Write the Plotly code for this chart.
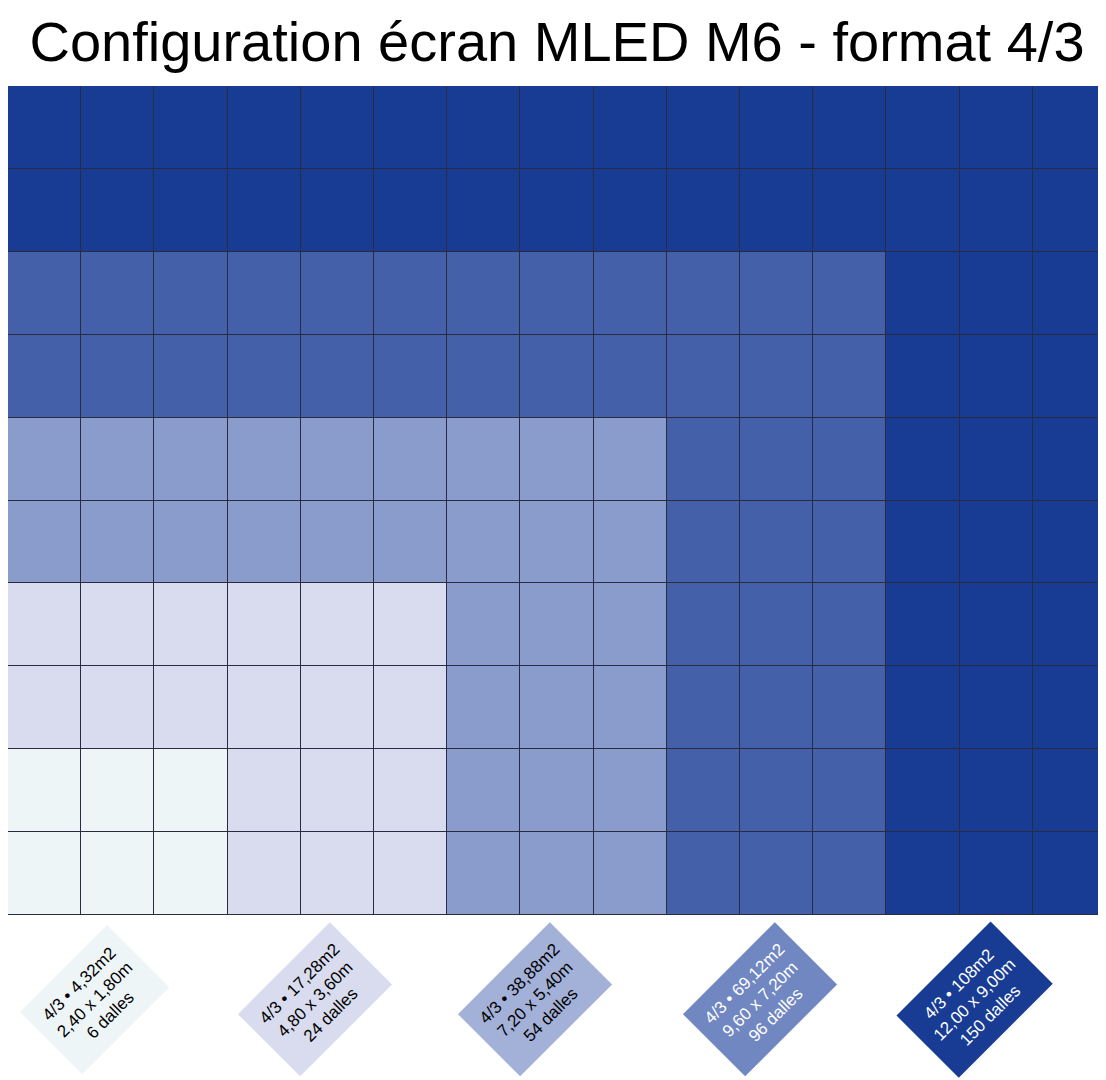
import plotly.graph_objects as go

config_cols = [3, 6, 9, 12, 15]
config_rows = [2, 4, 6, 8, 10]
cell_colors = ["#EEF5F7", "#D9DCEE", "#8A9CCB", "#4460A9", "#183C94"]
label_colors = ["#EEF5F7", "#D9DCEE", "#A3B1D8", "#7087C1", "#183C94"]
label_text_colors = ["#000000", "#000000", "#000000", "#FFFFFF", "#FFFFFF"]
labels = [
    "4/3 • 4,32m2<br>2,40 x 1,80m<br>6 dalles",
    "4/3 • 17,28m2<br>4,80 x 3,60m<br>24 dalles",
    "4/3 • 38,88m2<br>7,20 x 5,40m<br>54 dalles",
    "4/3 • 69,12m2<br>9,60 x 7,20m<br>96 dalles",
    "4/3 • 108m2<br>12,00 x 9,00m<br>150 dalles",
]

ncols, nrows = config_cols[-1], config_rows[-1]
z = []
for r in range(nrows):
    row = []
    for c in range(ncols):
        lvl = next(i for i in range(5) if c < config_cols[i] and r < config_rows[i])
        row.append(lvl)
    z.append(row)

cs = []
for i, col in enumerate(cell_colors):
    cs += [[i / 5, col], [(i + 1) / 5, col]]

fig = go.Figure(go.Heatmap(z=z, x=list(range(ncols)), y=list(range(nrows)),
                           zmin=0, zmax=5, colorscale=cs, showscale=False,
                           xgap=1, ygap=1, hoverinfo="skip"))

W, H = 1098, 1072
top, bottom = 78, 165
plot_h = H - top - bottom
label_px = [95, 315, 535, 760, 975]
for i, t in enumerate(labels):
    fig.add_annotation(x=(label_px[i] - 8) / W, y=-(992 - (H - bottom)) / plot_h,
                       xref="paper", yref="paper", text=t, showarrow=False,
                       textangle=-45, bgcolor=label_colors[i], borderpad=12,
                       font=dict(family="Liberation Sans, Arial", size=17, color=label_text_colors[i]),
                       align="center", yanchor="middle", xanchor="center")

fig.update_layout(
    width=W, height=H,
    margin=dict(l=0, r=0, t=top, b=bottom),
    paper_bgcolor="white", plot_bgcolor="#2a2a40",
    title=dict(text="Configuration écran MLED M6 - format 4/3", x=0.5, xanchor="center",
               y=1 - 33 / H, yanchor="middle",
               font=dict(family="Liberation Sans, Arial", size=56, color="black")),
    xaxis=dict(visible=False, range=[-0.5, 14.5]),
    yaxis=dict(visible=False, range=[-0.5, 9.5]),
)
fig.write_html("out.html")
